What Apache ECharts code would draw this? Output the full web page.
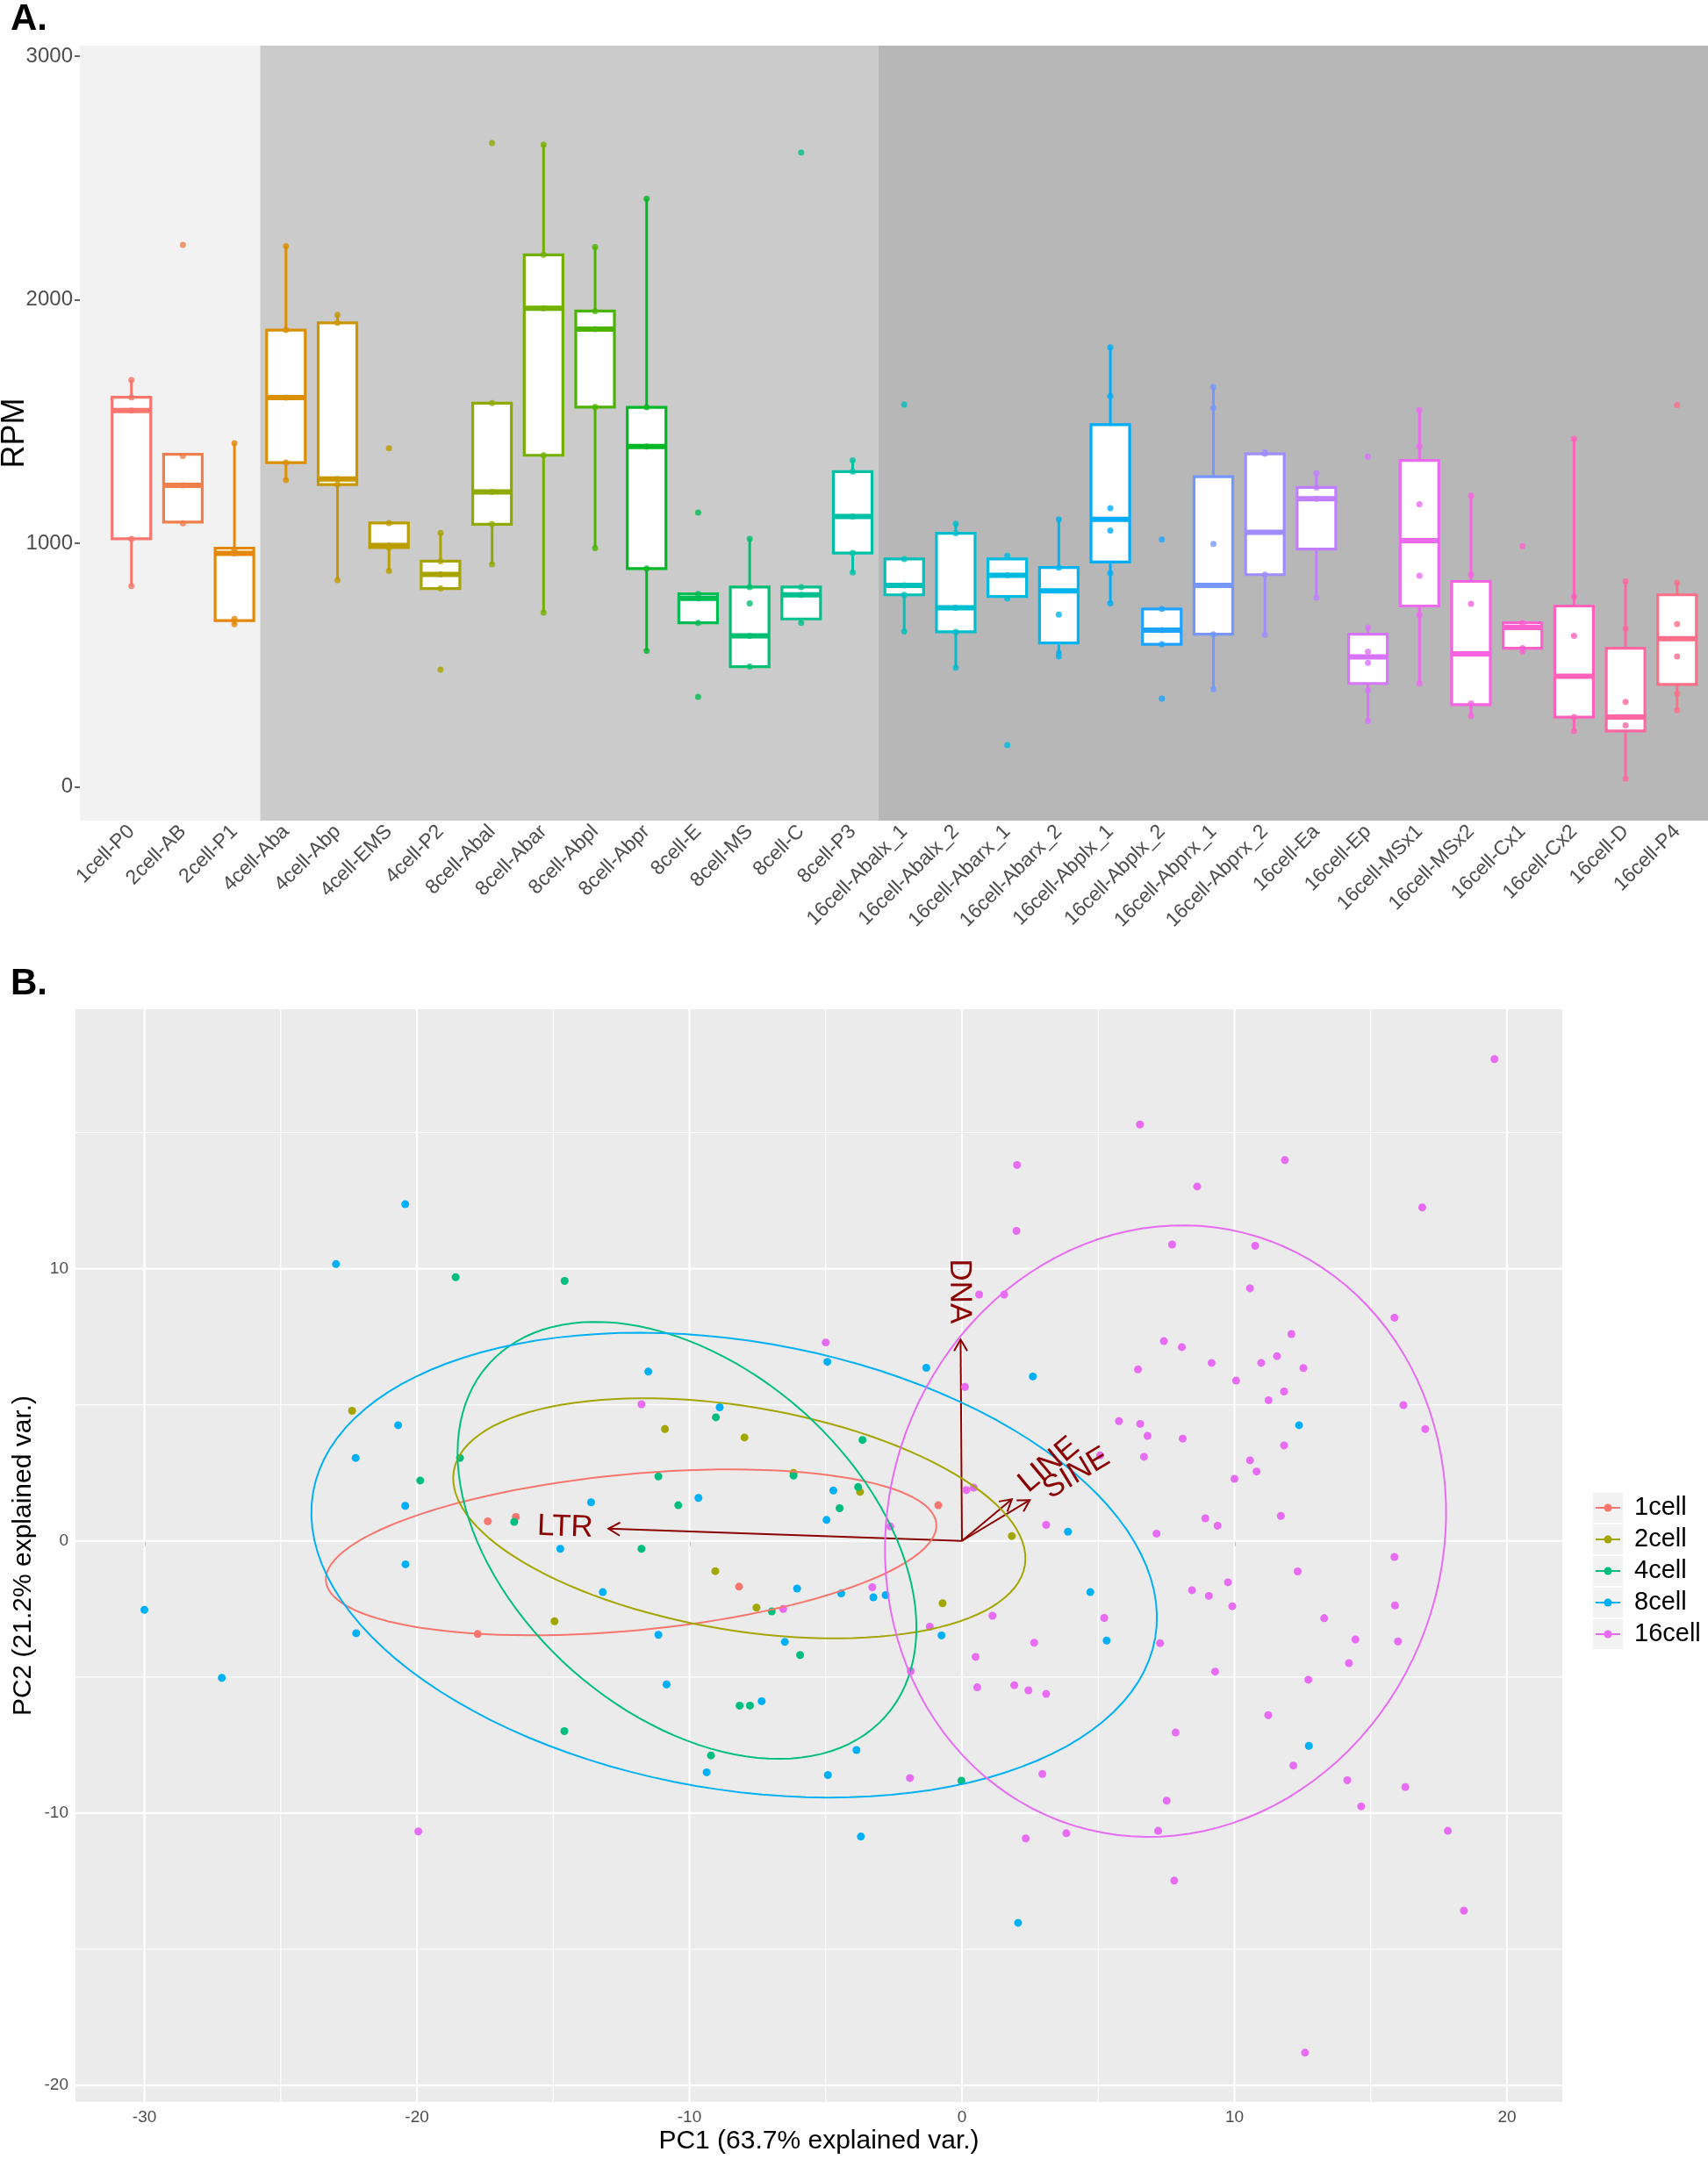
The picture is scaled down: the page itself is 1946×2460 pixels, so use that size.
<!DOCTYPE html>
<html>
<head>
<meta charset="utf-8">
<script src="https://cdn.jsdelivr.net/npm/echarts@6/dist/echarts.min.js"></script>
<style>
html,body{margin:0;padding:0;background:#ffffff;}
#chart{width:1946px;height:2460px;}
</style>
</head>
<body>
<div id="chart"></div>
<script>
// ---------------- Panel A data ----------------
const categories = ['1cell-P0','2cell-AB','2cell-P1','4cell-Aba','4cell-Abp','4cell-EMS','4cell-P2',
  '8cell-Abal','8cell-Abar','8cell-Abpl','8cell-Abpr','8cell-E','8cell-MS','8cell-C','8cell-P3',
  '16cell-Abalx_1','16cell-Abalx_2','16cell-Abarx_1','16cell-Abarx_2','16cell-Abplx_1','16cell-Abplx_2',
  '16cell-Abprx_1','16cell-Abprx_2','16cell-Ea','16cell-Ep','16cell-MSx1','16cell-MSx2','16cell-Cx1',
  '16cell-Cx2','16cell-D','16cell-P4'];
const whiskerLow  = [825,1088,668,1260,849,887,815,914,716,981,559,674,494,674,881,639,490,775,536,754,586,402,625,777,271,425,292,556,230,34,315];
const boxQ1       = [1019,1088,683,1332,1242,983,815,1079,1362,1560,897,674,494,690,961,789,637,782,591,924,586,627,872,977,425,743,338,570,287,230,421];
const boxMedian   = [1546,1239,959,1599,1265,992,873,1212,1966,1880,1398,775,621,789,1111,828,736,869,805,1099,644,828,1046,1184,534,1012,547,655,455,287,609];
const boxQ3       = [1600,1366,981,1876,1906,1084,927,1576,2185,1954,1559,793,821,821,1295,936,1042,936,901,1488,731,1274,1368,1230,627,1341,844,674,743,570,789];
const whiskerHigh = [1671,1366,1412,2221,1939,1084,1043,1576,2638,2217,2415,793,1019,821,1341,936,1081,949,1099,1805,731,1642,1368,1288,655,1548,1196,674,1430,844,839];
const rpmPoints = [
  [825,1019,1546,1600,1671],
  [1083,1239,1359,2226],
  [668,690,959,975,1412],
  [1260,1332,1599,1876,2221],
  [849,1242,1265,1906,1939],
  [887,983,992,1084,1391],
  [482,815,873,927,1043],
  [914,1079,1212,1576,2644],
  [716,1362,1966,2185,2638],
  [981,1560,1880,1954,2217],
  [559,897,1398,1559,2415],
  [370,674,775,793,1127],
  [494,621,754,821,1019],
  [674,789,821,2605],
  [881,961,1111,1295,1341],
  [639,789,828,936,1570],
  [490,637,736,1042,1081],
  [172,775,869,949],
  [536,550,708,901,1099],
  [754,878,1053,1145,1605,1805],
  [363,586,644,731,1016],
  [402,627,998,1557,1642],
  [625,872,1368,1375],
  [777,1184,1230,1288],
  [271,398,510,556,655,1357],
  [425,707,867,1161,1400,1548],
  [292,343,752,872,1196],
  [556,570,674,989],
  [230,287,621,782,1430],
  [34,253,349,650,844],
  [315,384,536,669,839,1568]
];
const rpmTicks = [0, 1000, 2000, 3000];
// stage groups (first and last category number of each shaded band)
const stageGroups = [[1,3],[4,15],[16,31]];

// ---------------- Panel B data ----------------
const groupNames = ['1cell','2cell','4cell','8cell','16cell'];
const pcaCell1 = [[-17.4,0.72],[-16.37,0.88],[-8.18,-1.68],[-17.77,-3.42],[-0.87,1.31]];
const pcaCell2 = [[-22.38,4.78],[-10.9,4.11],[-7.98,3.8],[-6.18,2.5],[-3.74,1.8],[-9.05,-1.11],[-7.54,-2.45],[-14.95,-2.95],[1.83,0.18],[-0.71,-2.29]];
const pcaCell4 = [[-18.58,9.69],[-14.58,9.55],[-9.03,4.54],[-3.65,3.71],[-18.42,3.05],[-19.88,2.22],[-11.14,2.37],[-6.18,2.4],[-10.41,1.31],[-3.81,1.98],[-4.49,1.2],[-16.43,0.7],[-11.76,-0.29],[-6.98,-2.59],[-5.94,-4.19],[-8.16,-6.05],[-7.78,-6.05],[-14.59,-6.99],[-9.21,-7.88],[-0.02,-8.81]];
const pcaCell8 = [[-20.43,12.37],[-22.97,10.17],[-4.94,6.58],[-11.51,6.22],[-8.89,4.91],[-20.69,4.25],[-22.25,3.05],[-9.67,1.58],[-13.61,1.42],[-20.43,1.29],[-4.72,1.85],[-4.97,0.77],[-14.74,-0.29],[-20.42,-0.86],[-30.0,-2.53],[-13.18,-1.88],[-6.05,-1.75],[-4.43,-1.93],[-3.25,-2.07],[-2.8,-1.99],[-0.75,-3.47],[-22.23,-3.39],[-11.14,-3.45],[-6.5,-3.71],[-27.16,-5.03],[-10.84,-5.27],[-7.35,-5.89],[-3.87,-7.68],[-9.37,-8.5],[-4.92,-8.6],[-3.71,-10.86],[3.89,0.34],[4.71,-1.88],[5.31,-3.66],[12.73,-7.53],[2.06,-14.03],[-1.31,6.36],[2.6,6.04],[12.37,4.25]];
const pcaCell16 = [[-5.0,7.29],[-11.76,5.02],[-3.29,-1.7],[-6.56,-2.5],[-19.95,-10.67],
  [3.09,0.59],[7.14,0.27],[8.93,0.83],[9.38,0.56],[11.7,0.92],[-2.63,0.53],[-1.18,-3.15],[1.12,-2.75],[5.22,-2.83],[2.65,-3.74],[7.27,-3.76],[0.5,-4.26],[-1.88,-4.78],[0.56,-5.38],[1.92,-5.3],[2.44,-5.49],[3.09,-5.62],[9.29,-4.8],[8.44,-1.81],[9.06,-2.02],[9.76,-1.52],[9.92,-2.4],[12.32,-1.12],[13.29,-2.84],[14.44,-3.62],[14.2,-4.49],[12.71,-5.1],[15.87,-0.59],[15.89,-2.37],[16.0,-3.69],[11.24,-6.4],[7.84,-7.04],[12.16,-8.25],[14.14,-8.79],[16.27,-9.04],[14.65,-9.75],[2.95,-8.56],[-1.91,-8.71],[7.51,-9.54],[7.2,-10.65],[3.83,-10.74],[2.34,-10.93],[7.79,-12.48],[17.83,-10.65],[18.42,-13.58],[12.59,-18.8],
  [19.54,17.7],[6.53,15.3],[2.02,13.81],[11.85,13.99],[8.63,13.02],[16.89,12.25],[2.0,11.39],[7.71,10.89],[10.76,10.84],[10.57,9.28],[0.63,9.05],[1.55,9.05],[15.87,8.2],[12.09,7.6],[7.41,7.34],[8.07,7.12],[6.46,6.3],[9.16,6.54],[10.98,6.54],[11.56,6.79],[12.53,6.35],[10.06,5.89],[11.82,5.49],[11.25,5.17],[0.11,5.66],[16.2,4.99],[17.0,4.11],[5.76,4.4],[6.54,4.3],[6.81,3.86],[8.1,3.76],[11.82,3.51],[6.68,3.09],[10.57,2.96],[10.81,2.55],[5.07,3.14],[10.0,2.28],[0.43,1.96],[0.16,1.87]];
const pcaGroups = [pcaCell1, pcaCell2, pcaCell4, pcaCell8, pcaCell16];
// group ellipses (centre, semi-axes, tilt in degrees)
const ellipseCx    = [-12.14, -8.17, -10.09, -8.36, 7.47];
const ellipseCy    = [-0.42, 0.83, 0.02, -0.89, 0.36];
const ellipseA     = [11.25, 10.62, 9.74, 15.68, 11.33];
const ellipseB     = [2.87, 4.11, 6.36, 8.23, 10.19];
const ellipseAngle = [5.4, -9.4, -41.6, -9.8, 72.7];
// variable loadings (arrow ends) and their label anchors
const loadingNames = ['DNA','LTR','LINE','SINE'];
const loadingX = [-0.05, -12.97, 1.83, 2.49];
const loadingY = [7.4, 0.45, 1.53, 1.5];
const loadingLabelX = [-0.1, -14.56, 3.19, 4.2];
const loadingLabelY = [9.17, 0.5, 2.79, 2.48];
const pcTicksX = [-30,-20,-10,0,10,20];
const pcMinorX = [-25,-15,-5,5,15];
const pcTicksY = [-20,-10,0,10];
const pcMinorY = [-15,-5,5,15];

// ---------------- colours (ggplot2 hue palette) ----------------
function hclHex(h, c, l) {
  const WX = 95.047, WY = 100.0, WZ = 108.883;
  const t = WX + 15 * WY + 3 * WZ;
  const un = 4 * WX / t, vn = 9 * WY / t;
  const hr = h * Math.PI / 180;
  const U = c * Math.cos(hr), V = c * Math.sin(hr);
  const Y = WY * (l > 8 ? Math.pow((l + 16) / 116, 3) : l / 903.3);
  const u = U / (13 * l) + un, v = V / (13 * l) + vn;
  const X = 9 * Y * u / (4 * v);
  const Z = -X / 3 - 5 * Y + 3 * Y / v;
  const g = x => x <= 0.0031308 ? 12.92 * x : 1.055 * Math.pow(x, 1 / 2.4) - 0.055;
  const r = g((3.240479 * X - 1.537150 * Y - 0.498535 * Z) / WY);
  const gg = g((-0.969256 * X + 1.875992 * Y + 0.041556 * Z) / WY);
  const b = g((0.055648 * X - 0.204043 * Y + 1.057311 * Z) / WY);
  const to = x => { const n = Math.round(Math.max(0, Math.min(1, x)) * 255); return (n < 16 ? '0' : '') + n.toString(16); };
  return '#' + to(r) + to(gg) + to(b);
}
function huePal(n) {
  const out = [];
  for (let i = 0; i < n; i++) out.push(hclHex(15 + 360 * i / n, 100, 65));
  return out;
}
const catColors = huePal(categories.length);
const groupColors = huePal(groupNames.length);
const bandColors = ['#F2F2F2', '#CBCBCB', '#B7B7B7'];
const arrowColor = '#8B0000';
const FONT = '"Liberation Sans", Arial, sans-serif';

// ---------------- build series ----------------
const catPositions = categories.map((c, i) => i + 1);
const boxData = categories.map((c, i) => [i + 1, whiskerLow[i], boxQ1[i], boxMedian[i], boxQ3[i], whiskerHigh[i]]);
const rpmScatter = [];
rpmPoints.forEach((arr, i) => arr.forEach(v => rpmScatter.push({ value: [i + 1, v], itemStyle: { color: catColors[i] } })));

const gridLineData = [];
pcTicksX.forEach(v => gridLineData.push([v, 0, 1]));
pcMinorX.forEach(v => gridLineData.push([v, 0, 0]));
pcTicksY.forEach(v => gridLineData.push([v, 1, 1]));
pcMinorY.forEach(v => gridLineData.push([v, 1, 0]));

const series = [];
// background bands (panel A)
series.push({
  type: 'custom', xAxisIndex: 0, yAxisIndex: 0, z: 1, silent: true,
  data: stageGroups.map((g, i) => [g[0], g[1], i]),
  encode: { x: [0, 1], y: 2 },
  renderItem: function (params, api) {
    const cs = params.coordSys;
    const i = params.dataIndex;
    const x0 = i === 0 ? cs.x : api.coord([api.value(0) - 0.5, 0])[0];
    const x1 = i === stageGroups.length - 1 ? cs.x + cs.width : api.coord([api.value(1) + 0.5, 0])[0];
    return { type: 'rect', shape: { x: x0, y: cs.y, width: x1 - x0, height: cs.height }, style: { fill: bandColors[i] } };
  }
});
// boxes (panel A)
series.push({
  type: 'custom', xAxisIndex: 0, yAxisIndex: 0, z: 2, silent: true,
  data: boxData,
  encode: { x: 0, y: [1, 2, 3, 4, 5] },
  renderItem: function (params, api) {
    const x = api.value(0);
    const c = catColors[params.dataIndex];
    const pLo = api.coord([x, api.value(1)]);
    const pQ1 = api.coord([x, api.value(2)]);
    const pMed = api.coord([x, api.value(3)]);
    const pQ3 = api.coord([x, api.value(4)]);
    const pHi = api.coord([x, api.value(5)]);
    const half = api.size([0.75, 0])[0] / 2;
    const px = pQ1[0];
    return {
      type: 'group',
      children: [
        { type: 'line', shape: { x1: px, y1: pLo[1], x2: px, y2: pQ1[1] }, style: { stroke: c, lineWidth: 3 } },
        { type: 'line', shape: { x1: px, y1: pQ3[1], x2: px, y2: pHi[1] }, style: { stroke: c, lineWidth: 3 } },
        { type: 'rect', shape: { x: px - half, y: pQ3[1], width: 2 * half, height: pQ1[1] - pQ3[1] }, style: { fill: '#ffffff', stroke: c, lineWidth: 3.2 } },
        { type: 'line', shape: { x1: px - half, y1: pMed[1], x2: px + half, y2: pMed[1] }, style: { stroke: c, lineWidth: 6 } }
      ]
    };
  }
});
// points (panel A)
series.push({
  type: 'scatter', xAxisIndex: 0, yAxisIndex: 0, z: 3, symbolSize: 7, silent: true,
  data: rpmScatter
});
// grid lines (panel B)
series.push({
  type: 'custom', xAxisIndex: 1, yAxisIndex: 1, z: 1, silent: true,
  data: gridLineData,
  renderItem: function (params, api) {
    const cs = params.coordSys;
    const v = api.value(0), horiz = api.value(1), major = api.value(2);
    const w = major ? 2.2 : 1.1;
    if (!horiz) {
      const p = api.coord([v, 0]);
      return { type: 'line', shape: { x1: p[0], y1: cs.y, x2: p[0], y2: cs.y + cs.height }, style: { stroke: '#ffffff', lineWidth: w } };
    }
    const p = api.coord([0, v]);
    return { type: 'line', shape: { x1: cs.x, y1: p[1], x2: cs.x + cs.width, y2: p[1] }, style: { stroke: '#ffffff', lineWidth: w } };
  }
});
// loading arrows (panel B)
series.push({
  type: 'custom', xAxisIndex: 1, yAxisIndex: 1, z: 2, silent: true,
  data: loadingNames.map((n, i) => [loadingX[i], loadingY[i]]),
  renderItem: function (params, api) {
    const o = api.coord([0, 0]);
    const e = api.coord([api.value(0), api.value(1)]);
    const ang = Math.atan2(e[1] - o[1], e[0] - o[0]);
    const L = 15, s = Math.PI / 6;
    const h1 = [e[0] - L * Math.cos(ang - s), e[1] - L * Math.sin(ang - s)];
    const h2 = [e[0] - L * Math.cos(ang + s), e[1] - L * Math.sin(ang + s)];
    return {
      type: 'group',
      children: [
        { type: 'line', shape: { x1: o[0], y1: o[1], x2: e[0], y2: e[1] }, style: { stroke: arrowColor, lineWidth: 2 } },
        { type: 'polyline', shape: { points: [h1, e, h2] }, style: { stroke: arrowColor, lineWidth: 2, fill: null } }
      ]
    };
  }
});
// group points (panel B)
pcaGroups.forEach((pts, gi) => {
  series.push({
    type: 'scatter', name: groupNames[gi], xAxisIndex: 1, yAxisIndex: 1, z: 3, symbolSize: 9, silent: true,
    itemStyle: { color: groupColors[gi], opacity: 1 },
    data: pts
  });
});
// ellipses (panel B)
series.push({
  type: 'custom', xAxisIndex: 1, yAxisIndex: 1, z: 4, silent: true,
  data: groupNames.map((n, i) => [ellipseCx[i], ellipseCy[i], ellipseA[i], ellipseB[i], ellipseAngle[i]]),
  renderItem: function (params, api) {
    const cx = api.value(0), cy = api.value(1), a = api.value(2), b = api.value(3);
    const th = api.value(4) * Math.PI / 180;
    const pts = [];
    for (let k = 0; k <= 120; k++) {
      const t = 2 * Math.PI * k / 120;
      const ex = cx + a * Math.cos(th) * Math.cos(t) - b * Math.sin(th) * Math.sin(t);
      const ey = cy + a * Math.sin(th) * Math.cos(t) + b * Math.cos(th) * Math.sin(t);
      pts.push(api.coord([ex, ey]));
    }
    return { type: 'polyline', shape: { points: pts }, style: { stroke: groupColors[params.dataIndex], lineWidth: 2, fill: null } };
  }
});
// loading labels (panel B)
series.push({
  type: 'custom', xAxisIndex: 1, yAxisIndex: 1, z: 5, silent: true,
  data: loadingNames.map((n, i) => [loadingLabelX[i], loadingLabelY[i], loadingX[i], loadingY[i]]),
  renderItem: function (params, api) {
    const p = api.coord([api.value(0), api.value(1)]);
    const rot = Math.atan(api.value(3) / api.value(2));
    return {
      type: 'text', x: p[0], y: p[1], rotation: rot,
      style: { text: loadingNames[params.dataIndex], fill: arrowColor, font: '35px ' + FONT, align: 'center', verticalAlign: 'middle' }
    };
  }
});

// ---------------- legend + panel tags (graphic) ----------------
const graphics = [
  { type: 'text', x: 12, y: 22, style: { text: 'A.', font: 'bold 42px ' + FONT, fill: '#000', align: 'left', verticalAlign: 'middle' } },
  { type: 'text', x: 12, y: 1121, style: { text: 'B.', font: 'bold 42px ' + FONT, fill: '#000', align: 'left', verticalAlign: 'middle' } }
];
groupNames.forEach((n, i) => {
  const cy = 1718 + i * 36;
  graphics.push({ type: 'rect', shape: { x: 1815, y: cy - 17, width: 34, height: 34 }, style: { fill: '#F2F2F2' } });
  graphics.push({ type: 'line', shape: { x1: 1818, y1: cy, x2: 1846, y2: cy }, style: { stroke: groupColors[i], lineWidth: 2 } });
  graphics.push({ type: 'circle', shape: { cx: 1832, cy: cy, r: 4.5 }, style: { fill: groupColors[i] } });
  graphics.push({ type: 'text', x: 1862, y: cy, style: { text: n, font: '29px ' + FONT, fill: '#000', align: 'left', verticalAlign: 'middle' } });
});

const tickStyle = { show: true, length: 6, lineStyle: { color: '#333333', width: 1.5 } };
const plain = v => String(v);

const option = {
  animation: false,
  backgroundColor: '#ffffff',
  textStyle: { fontFamily: FONT },
  grid: [
    { left: 91, top: 52, width: 1855, height: 883, containLabel: false, outerBoundsMode: 'none', show: false },
    { left: 86, top: 1150, width: 1694, height: 1245, containLabel: false, outerBoundsMode: 'none', show: true, backgroundColor: '#EBEBEB', borderWidth: 0 }
  ],
  xAxis: [
    {
      type: 'value', gridIndex: 0, min: 0, max: 31.6,
      axisLine: { show: false }, splitLine: { show: false },
      axisTick: Object.assign({ customValues: catPositions }, tickStyle),
      axisLabel: { customValues: catPositions, formatter: v => categories[Math.round(v) - 1] || '', rotate: 45, fontSize: 23, color: '#4D4D4D', fontFamily: FONT, margin: 9 }
    },
    {
      type: 'value', gridIndex: 1, min: -32.53, max: 22.03,
      axisLine: { show: false }, splitLine: { show: false },
      axisTick: Object.assign({ customValues: pcTicksX }, tickStyle),
      axisLabel: { customValues: pcTicksX, formatter: plain, fontSize: 19, color: '#4D4D4D', fontFamily: FONT, margin: 8 },
      name: 'PC1 (63.7% explained var.)', nameLocation: 'middle', nameGap: 30, nameMoveOverlap: false,
      nameTextStyle: { fontSize: 30, color: '#000', fontFamily: FONT }
    }
  ],
  yAxis: [
    {
      type: 'value', gridIndex: 0, min: -138, max: 3044,
      axisLine: { show: false }, splitLine: { show: false },
      axisTick: Object.assign({ customValues: rpmTicks }, tickStyle),
      axisLabel: { customValues: rpmTicks, formatter: plain, fontSize: 24, color: '#4D4D4D', fontFamily: FONT, margin: 8 },
      name: 'RPM', nameLocation: 'middle', nameGap: 56, nameMoveOverlap: false,
      nameTextStyle: { fontSize: 36, color: '#000', fontFamily: FONT }
    },
    {
      type: 'value', gridIndex: 1, min: -20.61, max: 19.53,
      axisLine: { show: false }, splitLine: { show: false },
      axisTick: Object.assign({ customValues: pcTicksY }, tickStyle),
      axisLabel: { customValues: pcTicksY, formatter: plain, fontSize: 19, color: '#4D4D4D', fontFamily: FONT, margin: 8 },
      name: 'PC2 (21.2% explained var.)', nameLocation: 'middle', nameGap: 44, nameMoveOverlap: false,
      nameTextStyle: { fontSize: 30, color: '#000', fontFamily: FONT }
    }
  ],
  graphic: graphics,
  series: series
};

const chart = echarts.init(document.getElementById('chart'), null, { renderer: 'canvas', width: 1946, height: 2460 });
chart.setOption(option);
</script>
</body>
</html>
